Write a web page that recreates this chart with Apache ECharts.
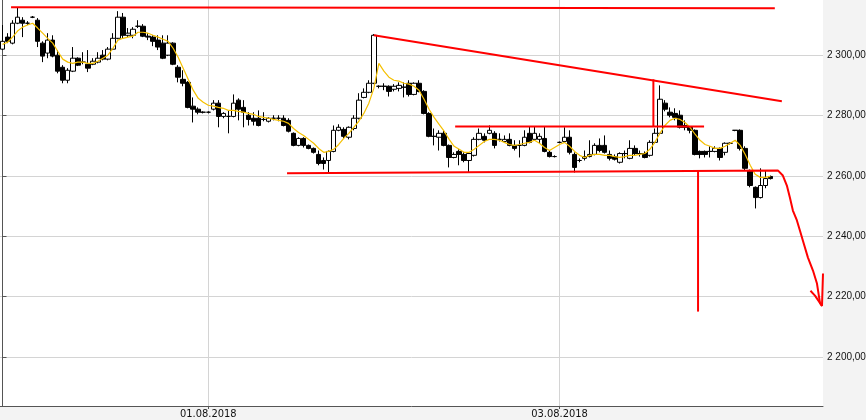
<!DOCTYPE html>
<html>
<head>
<meta charset="utf-8">
<script src="https://cdn.jsdelivr.net/npm/echarts@6/dist/echarts.min.js"></script>
<style>
html,body{margin:0;padding:0;background:#f3f3f3;}
#chart{width:866px;height:420px;}
</style>
</head>
<body>
<div id="chart"></div>
<script>
// ---- data ----
const barCount = 164; // category slots on the time axis (bars + empty space on the right)
const categories = Array.from({length: barCount}, (_, i) => 'B' + i);

const opens = [2302.0, 2306.0, 2304.0, 2310.6, 2311.6, 2310.6, 2312.6, 2311.6, 2304.0, 2300.7,
 2305.0, 2300.0, 2296.0, 2291.7, 2294.7, 2299.0, 2297.7, 2297.0, 2297.0, 2297.7,
 2300.0, 2298.7, 2302.0, 2305.6, 2312.6, 2306.6, 2306.6, 2309.6, 2309.6, 2306.3,
 2306.0, 2305.0, 2304.0, 2300.0, 2304.0, 2296.0, 2292.0, 2291.0, 2283.1, 2282.1,
 2281.1, 2281.1, 2282.1, 2284.1, 2279.7, 2279.7, 2279.7, 2285.1, 2282.7, 2280.1,
 2279.1, 2279.1, 2278.7, 2278.1, 2279.1, 2279.1, 2279.1, 2278.4, 2274.1, 2270.1,
 2272.4, 2270.1, 2269.1, 2267.1, 2265.1, 2265.1, 2268.1, 2275.1, 2275.4, 2272.8,
 2275.7, 2279.1, 2286.0, 2287.7, 2290.7, 2289.7, 2289.7, 2289.7, 2288.7, 2289.0,
 2289.4, 2290.7, 2287.0, 2290.7, 2288.0, 2280.7, 2273.1, 2272.8, 2274.1, 2270.1,
 2266.1, 2268.1, 2267.1, 2265.1, 2266.8, 2272.1, 2273.1, 2274.1, 2274.1, 2272.1,
 2271.4, 2272.1, 2270.1, 2270.1, 2270.1, 2274.1, 2272.1, 2272.1, 2272.4, 2267.8,
 2266.4, 2271.1, 2271.4, 2272.8, 2267.1, 2265.1, 2265.8, 2266.4, 2267.1, 2270.1,
 2270.1, 2267.1, 2266.4, 2264.5, 2267.4, 2265.8, 2269.1, 2267.4, 2267.4, 2266.8,
 2271.1, 2274.1, 2284.1, 2281.1, 2280.7, 2280.1, 2276.7, 2276.1, 2275.1, 2268.1,
 2268.1, 2268.1, 2268.1, 2269.1, 2267.8, 2270.8, 2275.1, 2275.1, 2269.1, 2261.8,
 2256.2, 2252.8, 2256.8, 2259.8];

const closes = [2304.6, 2304.6, 2310.6, 2312.6, 2310.6, 2310.6, 2312.6, 2304.6, 2299.7, 2305.0,
 2299.7, 2294.7, 2291.7, 2295.0, 2299.0, 2296.7, 2297.7, 2295.7, 2298.0, 2299.0,
 2298.7, 2302.0, 2305.6, 2312.6, 2306.6, 2307.3, 2308.6, 2309.6, 2306.3, 2306.0,
 2304.6, 2302.7, 2299.0, 2304.0, 2297.0, 2292.7, 2290.7, 2282.7, 2282.1, 2281.1,
 2281.1, 2281.1, 2284.1, 2279.7, 2280.7, 2279.7, 2284.1, 2282.1, 2281.1, 2278.7,
 2278.1, 2276.7, 2278.7, 2279.1, 2279.1, 2279.1, 2276.7, 2274.8, 2270.1, 2272.4,
 2270.1, 2269.1, 2267.8, 2264.1, 2264.1, 2268.1, 2275.1, 2276.1, 2273.1, 2276.1,
 2279.1, 2285.1, 2287.7, 2290.7, 2306.6, 2289.7, 2289.7, 2288.0, 2289.7, 2290.0,
 2289.4, 2287.0, 2290.7, 2288.0, 2280.7, 2273.1, 2273.1, 2274.1, 2270.1, 2266.1,
 2267.1, 2267.1, 2265.1, 2267.4, 2272.1, 2274.1, 2271.8, 2275.1, 2270.1, 2272.1,
 2272.1, 2270.1, 2269.1, 2270.1, 2272.8, 2271.1, 2274.1, 2273.1, 2268.1, 2266.4,
 2266.4, 2271.1, 2272.8, 2267.8, 2262.8, 2265.1, 2266.4, 2267.1, 2270.1, 2268.4,
 2267.8, 2265.8, 2265.5, 2267.4, 2267.4, 2269.1, 2267.4, 2267.4, 2266.1, 2271.1,
 2274.1, 2285.4, 2282.1, 2280.1, 2279.4, 2276.1, 2276.1, 2275.1, 2267.1, 2267.1,
 2267.1, 2268.1, 2269.1, 2266.1, 2270.8, 2270.8, 2275.1, 2269.1, 2262.5, 2256.8,
 2252.8, 2256.8, 2259.1, 2259.1];

const lows = [2301.7, 2304.0, 2303.6, 2310.3, 2306.0, 2310.0, 2312.3, 2302.7, 2297.7, 2299.0,
 2299.3, 2294.0, 2290.7, 2290.7, 2294.4, 2296.4, 2297.0, 2294.4, 2296.7, 2297.3,
 2298.3, 2298.3, 2301.7, 2305.3, 2305.6, 2306.0, 2305.6, 2309.0, 2306.0, 2305.0,
 2303.0, 2301.7, 2298.7, 2299.7, 2296.7, 2291.0, 2289.7, 2282.4, 2277.7, 2280.4,
 2280.7, 2280.7, 2281.7, 2276.1, 2279.1, 2274.1, 2279.4, 2278.4, 2276.1, 2276.7,
 2276.7, 2276.4, 2278.1, 2277.7, 2278.4, 2278.1, 2276.4, 2274.4, 2269.8, 2269.8,
 2269.4, 2268.8, 2267.4, 2263.5, 2262.1, 2261.1, 2267.8, 2274.8, 2272.4, 2272.1,
 2275.1, 2278.7, 2285.7, 2287.4, 2290.4, 2289.0, 2288.4, 2286.3, 2288.0, 2288.0,
 2286.0, 2286.3, 2286.7, 2287.7, 2280.4, 2272.8, 2270.1, 2268.4, 2269.8, 2262.8,
 2265.8, 2263.5, 2264.5, 2261.1, 2266.4, 2271.8, 2271.1, 2273.8, 2269.1, 2271.4,
 2271.1, 2269.8, 2268.4, 2266.1, 2269.8, 2270.8, 2271.8, 2270.8, 2267.8, 2266.1,
 2266.1, 2270.8, 2271.1, 2267.1, 2261.1, 2264.5, 2265.1, 2266.1, 2266.8, 2267.8,
 2267.4, 2265.1, 2265.1, 2264.1, 2265.8, 2265.5, 2266.8, 2266.4, 2265.8, 2266.4,
 2270.8, 2273.8, 2281.4, 2279.4, 2278.4, 2275.7, 2275.1, 2274.1, 2266.8, 2265.8,
 2266.1, 2266.1, 2267.8, 2265.1, 2266.8, 2270.4, 2274.8, 2268.4, 2261.8, 2256.2,
 2249.2, 2252.5, 2255.9, 2258.8];

const highs = [2310.0, 2307.3, 2311.6, 2315.9, 2312.6, 2311.3, 2313.0, 2312.3, 2304.6, 2307.3,
 2306.6, 2301.7, 2296.7, 2295.7, 2302.7, 2299.3, 2301.0, 2301.7, 2299.0, 2301.0,
 2301.7, 2302.7, 2307.3, 2314.6, 2314.0, 2309.0, 2309.3, 2311.6, 2310.3, 2307.3,
 2306.6, 2306.6, 2306.6, 2306.6, 2304.3, 2296.7, 2295.0, 2291.4, 2286.0, 2282.7,
 2281.4, 2281.4, 2285.1, 2285.1, 2281.1, 2281.7, 2287.0, 2285.7, 2285.1, 2281.1,
 2281.1, 2281.7, 2281.1, 2279.4, 2280.1, 2280.1, 2280.1, 2279.1, 2274.4, 2272.8,
 2272.8, 2270.4, 2269.4, 2268.4, 2266.1, 2268.4, 2276.7, 2277.1, 2276.1, 2276.4,
 2280.1, 2287.4, 2289.0, 2291.7, 2307.0, 2290.0, 2290.7, 2290.0, 2290.4, 2291.0,
 2291.0, 2291.7, 2291.0, 2291.7, 2288.4, 2281.1, 2275.7, 2275.1, 2275.1, 2270.4,
 2267.8, 2268.8, 2267.8, 2267.8, 2272.8, 2275.7, 2274.1, 2276.7, 2274.8, 2274.1,
 2273.4, 2274.1, 2271.8, 2271.8, 2275.1, 2276.4, 2276.4, 2274.1, 2276.4, 2268.4,
 2266.8, 2271.4, 2276.1, 2275.1, 2267.8, 2265.8, 2268.4, 2271.8, 2270.8, 2272.4,
 2273.4, 2268.4, 2267.1, 2267.8, 2268.4, 2271.8, 2270.1, 2268.4, 2268.1, 2271.8,
 2275.7, 2290.0, 2285.1, 2282.7, 2282.4, 2281.7, 2278.4, 2276.4, 2275.4, 2268.4,
 2268.4, 2269.8, 2269.8, 2269.4, 2271.1, 2271.1, 2275.1, 2275.4, 2269.8, 2262.1,
 2256.5, 2262.5, 2261.8, 2260.1];

// yellow moving-average line
const movingAvg = [2303.6, 2304.3, 2306.0, 2308.0, 2309.3, 2310.0, 2310.6, 2309.0, 2307.3, 2305.6,
 2304.0, 2301.3, 2298.7, 2297.7, 2297.3, 2297.7, 2297.7, 2297.3, 2297.3, 2298.0,
 2299.0, 2300.0, 2302.3, 2305.0, 2305.6, 2306.0, 2306.3, 2307.6, 2307.6, 2307.3,
 2306.6, 2306.0, 2305.3, 2304.6, 2302.3, 2299.3, 2295.7, 2292.0, 2288.4, 2285.7,
 2284.4, 2283.4, 2283.1, 2282.7, 2282.4, 2281.7, 2281.7, 2281.4, 2281.1, 2280.7,
 2280.4, 2279.7, 2279.4, 2279.1, 2278.7, 2278.4, 2278.1, 2277.4, 2275.7, 2274.4,
 2273.4, 2272.1, 2270.8, 2269.1, 2267.8, 2268.1, 2268.8, 2270.4, 2272.4, 2274.1,
 2276.1, 2278.1, 2280.7, 2284.1, 2289.0, 2297.3, 2294.7, 2292.7, 2291.7, 2291.4,
 2290.7, 2290.4, 2289.7, 2288.4, 2285.4, 2282.1, 2279.4, 2277.1, 2274.8, 2272.1,
 2269.8, 2268.8, 2267.8, 2267.8, 2268.8, 2270.1, 2271.4, 2272.1, 2272.1, 2271.8,
 2271.1, 2270.4, 2270.1, 2270.4, 2270.8, 2271.1, 2271.8, 2270.8, 2269.4, 2268.4,
 2269.4, 2270.4, 2271.1, 2269.8, 2268.1, 2266.8, 2266.1, 2266.8, 2267.1, 2267.1,
 2266.8, 2266.8, 2266.4, 2266.1, 2266.4, 2266.8, 2266.8, 2267.1, 2267.4, 2268.8,
 2271.1, 2274.1, 2276.7, 2278.4, 2279.1, 2278.7, 2277.7, 2276.1, 2273.8, 2271.8,
 2270.4, 2269.8, 2269.1, 2269.1, 2269.8, 2270.8, 2271.8, 2270.1, 2267.1, 2263.5,
 2260.5, 2259.5, 2259.5, 2259.8];

// hand-drawn red trend lines: [bar position, price]
const topLine = [[1.7, 2315.9], [153.9, 2315.6]];
const fallingLine = [[74.0, 2306.6], [155.3, 2284.7]];
const resistanceLine = [[90.2, 2276.4], [139.8, 2276.4]];
const peakDrop = [[129.7, 2292.0], [129.7, 2276.4]];
const targetDrop = [[138.6, 2261.6], [138.6, 2215.0]];
const supportArrow = [[56.7, 2260.9], [154.5, 2261.8], [155.5, 2260.1], [156.3, 2256.8], [156.9, 2252.8],
 [157.5, 2248.5], [158.3, 2245.2], [158.9, 2241.9], [159.5, 2238.5], [160.5, 2232.9], [161.5, 2228.6],
 [162.3, 2224.3], [162.9, 2217.9], [163.3, 2216.9]];
const arrowHead = [[161.0, 2221.9], [161.9, 2220.3], [163.3, 2216.9], [163.5, 2227.6]];

// axis ticks
const yTicks = [2200, 2220, 2240, 2260, 2280, 2300];
const yMin = 2183.7, yMax = 2318.3;
const xTickIdx = [41, 111];
const xTickLabels = ['01.08.2018', '03.08.2018'];

// ---- chart ----
const ohlc = opens.map((o, i) => [o, closes[i], lows[i], highs[i]]);

function fmtPrice(v) {
  const s = v.toFixed(2).split('.');
  return s[0].replace(/\B(?=(\d{3})+(?!\d))/g, ' ') + ',' + s[1];
}

const red = {color: '#ff0000', width: 2};
function redSeries(name, data) {
  return {
    name, type: 'line', xAxisIndex: 1, yAxisIndex: 0, data,
    showSymbol: false, symbol: 'none', silent: true, clip: false,
    lineStyle: red, z: 5, animation: false
  };
}

const chart = echarts.init(document.getElementById('chart'), null, {renderer: 'canvas'});
chart.setOption({
  animation: false,
  backgroundColor: '#f3f3f3',
  grid: {left: 0, right: 43, top: 0, bottom: 14, show: true, backgroundColor: '#ffffff',
         borderWidth: 0, containLabel: false, outerBoundsMode: 'none'},
  xAxis: [
    {type: 'category', data: categories, boundaryGap: true, show: false},
    {type: 'value', min: -0.5, max: barCount - 0.5, position: 'bottom',
     axisLine: {show: true, lineStyle: {color: '#555555', width: 1}},
     axisTick: {show: true, customValues: xTickIdx, length: 3, lineStyle: {color: '#555555'}},
     axisLabel: {show: true, customValues: xTickIdx, margin: 3,
       formatter: v => xTickLabels[xTickIdx.indexOf(Math.round(v))] || '',
       fontSize: 11, fontFamily: '"Liberation Sans Narrow", "DejaVu Sans Condensed", Arial, sans-serif',
       color: '#111111'},
     splitLine: {show: true, lineStyle: {color: '#d4d4d4', width: 1}}}
  ],
  yAxis: {
    type: 'value', position: 'right', min: yMin, max: yMax, scale: true,
    axisLine: {show: true, lineStyle: {color: '#555555', width: 1}},
    axisTick: {show: true, customValues: yTicks, length: 4, lineStyle: {color: '#555555'}},
    axisLabel: {show: true, customValues: yTicks, formatter: fmtPrice, margin: 4,
      fontSize: 10, fontFamily: '"Liberation Sans", Arial, sans-serif', color: '#111111'},
    splitLine: {show: true, lineStyle: {color: '#d4d4d4', width: 1}}
  },
  series: [
    {type: 'candlestick', xAxisIndex: 0, yAxisIndex: 0, data: ohlc, barWidth: 5, silent: true,
     itemStyle: {color: '#ffffff', color0: '#000000', borderColor: '#000000', borderColor0: '#000000',
                 borderColorDoji: '#000000', borderWidth: 1}},
    {type: 'line', xAxisIndex: 0, yAxisIndex: 0, data: movingAvg, showSymbol: false, symbol: 'none',
     silent: true, lineStyle: {color: '#f5c000', width: 1.2}, z: 4},
    redSeries('top', topLine),
    redSeries('falling', fallingLine),
    redSeries('resistance', resistanceLine),
    redSeries('peakDrop', peakDrop),
    redSeries('targetDrop', targetDrop),
    redSeries('support', supportArrow),
    redSeries('arrow', arrowHead)
  ]
});
</script>
</body>
</html>
